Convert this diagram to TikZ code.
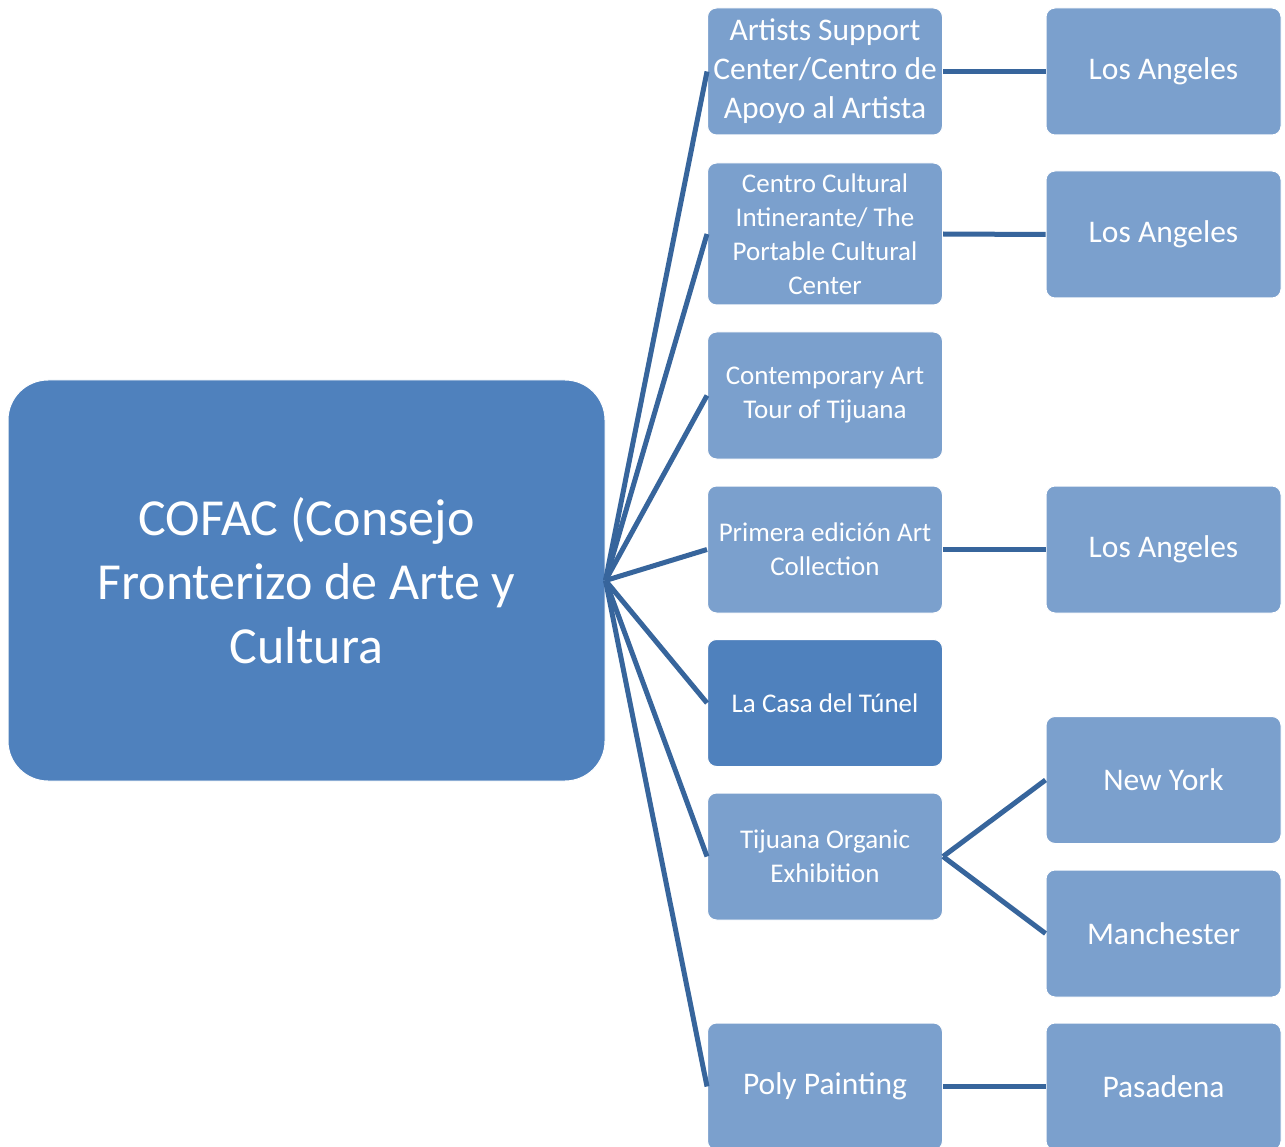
\documentclass[tikz,border=0pt]{standalone}
\usepackage{fontspec}
\setmainfont{Carlito}
\definecolor{darkbox}{HTML}{4F81BD}
\definecolor{lightbox}{HTML}{7BA0CD}
\definecolor{linkblue}{HTML}{37659C}
\begin{document}
\begin{tikzpicture}[x=1pt,y=-1pt,
  basebox/.style={rectangle, rounded corners=9pt, draw=white, line width=1pt,
    text=white, align=center, inner sep=0pt, minimum width=235pt, minimum height=127pt},
  lbox/.style={basebox, fill=lightbox},
  dbox/.style={basebox, fill=darkbox},
  mainbox/.style={rectangle, rounded corners=40pt, fill=darkbox, draw=white, line width=1pt,
    text=white, align=center, inner sep=0pt, minimum width=597pt, minimum height=401pt,
    font=\fontsize{52}{64}\selectfont},
  smalltxt/.style={font=\fontsize{27}{34}\selectfont},
  bigtxt/.style={font=\fontsize{31.5}{39}\selectfont},
  link/.style={draw=linkblue, line width=5pt}]
\clip (0,0) rectangle (1285,1147);
\fill[white] (0,0) rectangle (1285,1147);

\node[mainbox] (root) at (306.5,580.5) {COFAC (Consejo\\Fronterizo de Arte y\\Cultura};

\node[lbox,bigtxt] (m1) at (825,71.5) {Artists Support\\Center/Centro de\\Apoyo al Artista};
\node[lbox,smalltxt,minimum height=142pt] (m2) at (825,234) {Centro Cultural\\Intinerante/ The\\Portable Cultural\\Center};
\node[lbox,smalltxt] (m3) at (825,395.5) {Contemporary Art\\Tour of Tijuana};
\node[lbox,smalltxt] (m4) at (825,549.5) {Primera edición Art\\Collection};
\node[dbox,smalltxt] (m5) at (825,703) {La Casa del Túnel};
\node[lbox,smalltxt] (m6) at (825,856.5) {Tijuana Organic\\Exhibition};
\node[lbox,bigtxt] (m7) at (825,1086.5) {Poly Painting};

\node[lbox,bigtxt] (r1) at (1163.5,71.5) {Los Angeles};
\node[lbox,bigtxt] (r2) at (1163.5,234.5) {Los Angeles};
\node[lbox,bigtxt] (r4) at (1163.5,549.5) {Los Angeles};
\node[lbox,bigtxt] (ny) at (1163.5,780) {New York};
\node[lbox,bigtxt] (man) at (1163.5,933.5) {Manchester};
\node[lbox,bigtxt] (pas) at (1163.5,1086.5) {Pasadena};

\foreach \m in {m1,m2,m3,m4,m5,m6,m7}{
  \draw[link] (root.east) -- (\m.west);
}
\draw[link] (m1.east) -- (r1.west);
\draw[link] (m2.east) -- (r2.west);
\draw[link] (m4.east) -- (r4.west);
\draw[link] (m6.east) -- (ny.west);
\draw[link] (m6.east) -- (man.west);
\draw[link] (m7.east) -- (pas.west);
\end{tikzpicture}
\end{document}
